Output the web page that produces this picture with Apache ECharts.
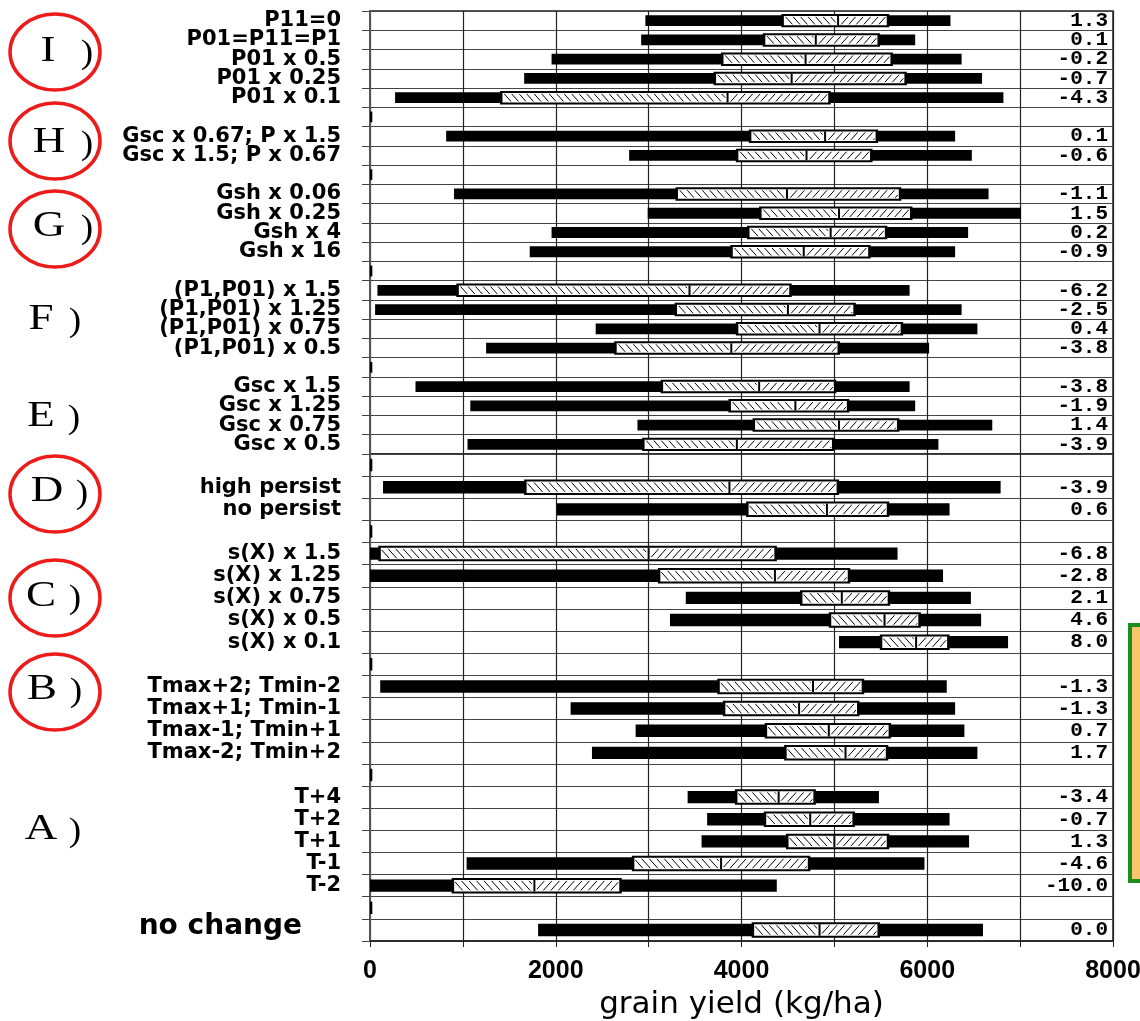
<!DOCTYPE html>
<html>
<head>
<meta charset="utf-8">
<script src="https://cdn.jsdelivr.net/npm/echarts@6/dist/echarts.min.js"></script>
<style>
html,body{margin:0;padding:0;background:#fff;}
#chart{width:1140px;height:1021px;}
</style>
</head>
<body>
<div id="chart"></div>
<script>
// ---------------- DATA ----------------
const rowLabels = [
  'P11=0','P01=P11=P1','P01 x 0.5','P01 x 0.25','P01 x 0.1','',
  'Gsc x 0.67; P x 1.5','Gsc x 1.5; P x 0.67','',
  'Gsh x 0.06','Gsh x 0.25','Gsh x 4','Gsh x 16','',
  '(P1,P01) x 1.5','(P1,P01) x 1.25','(P1,P01) x 0.75','(P1,P01) x 0.5','',
  'Gsc x 1.5','Gsc x 1.25','Gsc x 0.75','Gsc x 0.5',
  '','high persist','no persist','',
  's(X) x 1.5','s(X) x 1.25','s(X) x 0.75','s(X) x 0.5','s(X) x 0.1','',
  'Tmax+2; Tmin-2','Tmax+1; Tmin-1','Tmax-1; Tmin+1','Tmax-2; Tmin+2','',
  'T+4','T+2','T+1','T-1','T-2','',
  'no change'
];
const changeLabels = [
  '1.3','0.1','-0.2','-0.7','-4.3','',
  '0.1','-0.6','',
  '-1.1','1.5','0.2','-0.9','',
  '-6.2','-2.5','0.4','-3.8','',
  '-3.8','-1.9','1.4','-3.9',
  '','-3.9','0.6','',
  '-6.8','-2.8','2.1','4.6','8.0','',
  '-1.3','-1.3','0.7','1.7','',
  '-3.4','-0.7','1.3','-4.6','-10.0','',
  '0.0'
];
const minValues = [
  2965,2920,1955,1660,270,0,
  820,2790,0,
  905,2990,1955,1720,0,
  80,55,2430,1250,0,
  490,1080,2880,1050,
  0,140,2010,0,
  0,0,3400,3230,5050,0,
  110,2160,2860,2390,0,
  3420,3630,3570,1040,0,0,
  1810
];
const q1Values = [
  4440,4240,3790,3710,1410,null,
  4090,3950,null,
  3300,4200,4070,3890,null,
  940,3290,3950,2640,null,
  3140,3870,4130,2940,
  null,1670,4060,null,
  100,3110,4640,4950,5500,null,
  3750,3810,4260,4470,null,
  3940,4250,4490,2830,890,null,
  4120
];
const medianValues = [
  5040,4800,4690,4540,3850,null,
  4900,4700,null,
  4490,5050,4960,4670,null,
  3440,4500,4840,3890,null,
  4190,4580,5050,3950,
  null,3870,4920,null,
  3000,4360,5080,5540,5880,null,
  4770,4620,4940,5120,null,
  4400,4740,5000,3780,1770,null,
  4840
];
const q3Values = [
  5580,5480,5620,5770,4950,null,
  5460,5400,null,
  5710,5830,5560,5380,null,
  4530,5220,5730,5050,null,
  5010,5150,5690,4990,
  null,5040,5580,null,
  4370,5160,5590,5920,6230,null,
  5310,5260,5600,5570,null,
  4790,5210,5580,4730,2700,null,
  5480
];
const maxValues = [
  6250,5870,6370,6590,6820,25,
  6300,6480,25,
  6660,7010,6440,6300,25,
  5810,6370,6540,6020,25,
  5810,5870,6700,6120,
  25,6790,6240,25,
  5680,6170,6470,6580,6870,25,
  6210,6300,6400,6540,25,
  5480,6240,6450,5970,4380,25,
  6600
];
const xTickValues = [0, 2000, 4000, 6000, 8000];
const groupLetters = ['I','H','G','F','E','D','C','B','A'];
const circledGroups = ['I','H','G','D','C','B'];
const xAxisTitle = 'grain yield (kg/ha)';

// ---------------- LAYOUT ----------------
const SPLIT = 23; // first panel rows 0..22, second panel rows 23..44
const panels = [
  {start: 0, end: SPLIT, top: 11, height: 443},
  {start: SPLIT, end: rowLabels.length, top: 454, height: 487}
];
const GRID_LEFT = 370, GRID_WIDTH = 743;

function hatchSegs(x0, x1, y0, y1, dir, sp, k) {
  const segs = [];
  if (x1 - x0 < 1) return segs;
  const h = y1 - y0;
  for (let s = x0 - k * h - sp; s <= x1 + sp; s += sp) {
    let ya, yb;
    if (dir > 0) {
      ya = Math.max(y0, y0 + (x0 - s) / k);
      yb = Math.min(y1, y0 + (x1 - s) / k);
      if (yb - ya > 0.3) segs.push([s + k * (ya - y0), ya, s + k * (yb - y0), yb]);
    } else {
      ya = Math.max(y0, y1 - (x1 - s) / k);
      yb = Math.min(y1, y1 - (x0 - s) / k);
      if (yb - ya > 0.3) segs.push([s + k * (y1 - ya), ya, s + k * (y1 - yb), yb]);
    }
  }
  return segs;
}

function renderRow(params, api) {
  const yi = api.value(0);
  const mn = api.value(1), q1 = api.value(2), md = api.value(3), q3 = api.value(4), mx = api.value(5);
  const rowH = api.size([0, 1])[1];
  const pMin = api.coord([mn, yi]);
  const pMax = api.coord([mx, yi]);
  const cy = pMin[1];
  const bh = rowH * 0.56;
  const children = [];
  children.push({type: 'rect', shape: {x: pMin[0], y: cy - bh / 2, width: pMax[0] - pMin[0], height: bh}, style: {fill: '#000'}});
  if (!isNaN(q1) && !isNaN(q3)) {
    const x1 = api.coord([q1, yi])[0], x3 = api.coord([q3, yi])[0], xm = api.coord([md, yi])[0];
    const boxH = rowH * 0.70;
    const top = cy - boxH / 2;
    children.push({type: 'rect', shape: {x: x1 - 1, y: top, width: x3 - x1 + 2, height: boxH}, style: {fill: '#000'}});
    children.push({type: 'rect', shape: {x: x1 + 1.5, y: top + 2, width: x3 - x1 - 3, height: boxH - 4}, style: {fill: '#fff'}});
    const hy0 = top + 3, hy1 = top + boxH - 3;
    const left = hatchSegs(x1 + 2.5, xm - 2.5, hy0, hy1, 1, 7.5, 0.9);
    const right = hatchSegs(xm + 2.5, x3 - 2.5, hy0, hy1, -1, 7.5, 0.9);
    left.concat(right).forEach(s => {
      children.push({type: 'line', shape: {x1: s[0], y1: s[1], x2: s[2], y2: s[3]}, style: {stroke: '#000', lineWidth: 1}});
    });
    children.push({type: 'line', shape: {x1: xm, y1: top + 2, x2: xm, y2: top + boxH - 2}, style: {stroke: '#000', lineWidth: 2}});
  }
  return {type: 'group', children: children};
}

const grids = [], xAxes = [], yAxes = [], series = [];
panels.forEach((p, g) => {
  const ids = [];
  const data = [];
  for (let i = p.start; i < p.end; i++) {
    ids.push('r' + i);
    data.push([i - p.start, minValues[i], q1Values[i], medianValues[i], q3Values[i], maxValues[i]]);
  }
  grids.push({left: GRID_LEFT, width: GRID_WIDTH, top: p.top, height: p.height, show: true,
    borderColor: '#222', borderWidth: 1.5, outerBoundsMode: 'none', containLabel: false});
  const isBottom = g === panels.length - 1;
  xAxes.push({
    gridIndex: g, type: 'value', min: 0, max: 8000, interval: 1000,
    splitLine: {show: true, lineStyle: {color: '#222', width: 1.2}},
    axisLine: {show: isBottom, lineStyle: {color: '#222', width: 1.5}},
    axisTick: {show: isBottom, length: 6, lineStyle: {color: '#222'}},
    axisLabel: {
      show: isBottom, margin: 18, color: '#000', fontFamily: 'Liberation Sans', fontWeight: 'bold', fontSize: 25,
      formatter: v => xTickValues.indexOf(v) >= 0 ? String(v) : ''
    },
    name: isBottom ? xAxisTitle : '', nameLocation: 'middle', nameGap: 48,
    nameTextStyle: {fontFamily: 'DejaVu Sans', fontSize: 31, color: '#000'}
  });
  yAxes.push({
    gridIndex: g, type: 'category', inverse: true, data: ids, position: 'left',
    axisLine: {show: true, lineStyle: {color: '#555', width: 2}},
    axisTick: {show: true, length: 8, interval: 0, lineStyle: {color: '#444'}},
    splitLine: {show: true, interval: 0, lineStyle: {color: '#444', width: 1}},
    axisLabel: {
      interval: 0, margin: 29, color: '#000', fontFamily: 'DejaVu Sans', fontWeight: 'bold', fontSize: 21,
      formatter: (v, idx) => {
        const t = rowLabels[idx + p.start];
        return t === 'no change' ? '{nc|' + t + '}' : t;
      },
      rich: {nc: {fontFamily: 'DejaVu Sans', fontWeight: 'bold', fontSize: 28, color: '#000', padding: [0, 39, 6, 0]}}
    }
  });
  yAxes.push({
    gridIndex: g, type: 'category', inverse: true, data: ids, position: 'right',
    axisLine: {show: false}, axisTick: {show: false}, splitLine: {show: false},
    axisLabel: {
      inside: true, interval: 0, margin: 5, color: '#000', fontFamily: 'Liberation Mono', fontWeight: 'bold', fontSize: 21,
      formatter: (v, idx) => changeLabels[idx + p.start]
    }
  });
  series.push({
    type: 'custom', xAxisIndex: g, yAxisIndex: g * 2, renderItem: renderRow, silent: true,
    encode: {x: [1, 2, 3, 4, 5], y: 0}, data: data, clip: true
  });
});

// group annotations (letters + red circles), layout only
const groupLayout = {
  I: {lx: 48, px: 87, y: 52, cy: 52},
  H: {lx: 49, px: 87, y: 143, cy: 141},
  G: {lx: 49, px: 87, y: 227, cy: 229},
  F: {lx: 41, px: 75, y: 320},
  E: {lx: 41, px: 74, y: 417},
  D: {lx: 47, px: 82, y: 492, cy: 494},
  C: {lx: 41, px: 75, y: 597, cy: 598},
  B: {lx: 42, px: 76, y: 690, cy: 692},
  A: {lx: 41, px: 75, y: 830}
};
const graphics = [];
groupLetters.forEach(L => {
  const gl = groupLayout[L];
  graphics.push({type: 'text', x: gl.lx, y: gl.y, scaleX: 1.25, style: {text: L, font: '36px "Liberation Serif"', fill: '#000', textAlign: 'center', textVerticalAlign: 'middle'}});
  graphics.push({type: 'text', x: gl.px, y: gl.y + 2, scaleX: 1.1, style: {text: ')', font: '34px "Liberation Serif"', fill: '#000', textAlign: 'center', textVerticalAlign: 'middle'}});
  if (circledGroups.indexOf(L) >= 0) {
    graphics.push({type: 'ellipse', shape: {cx: 55, cy: gl.cy, rx: 45, ry: 38}, style: {fill: 'none', stroke: '#ee1b1b', lineWidth: 3.5}});
  }
});
graphics.push({type: 'rect', shape: {x: 1130, y: 625, width: 30, height: 256}, style: {fill: '#f9c76a', stroke: '#1d8d1d', lineWidth: 4}});

const chart = echarts.init(document.getElementById('chart'), null, {renderer: 'canvas'});
chart.setOption({
  backgroundColor: '#fff',
  animation: false,
  grid: grids,
  xAxis: xAxes,
  yAxis: yAxes,
  series: series,
  graphic: graphics
});
</script>
</body>
</html>
